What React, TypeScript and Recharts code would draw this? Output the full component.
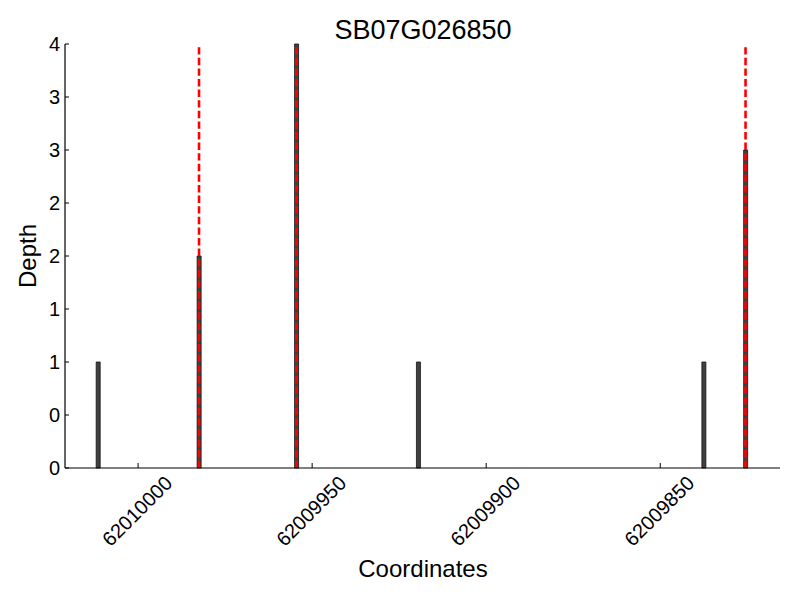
/**
 * Depth plot for SB07G026850 — per-coordinate read depth with marked positions.
 */
import { ComposedChart, Bar, XAxis, YAxis, ReferenceLine, Customized } from 'recharts'

const FONT = '"Liberation Sans", Arial, sans-serif'

const coordinates = [62010011.5, 62009982.5, 62009954.5, 62009919.5, 62009837.5, 62009825.5]
const depths = [1, 2, 4, 1, 1, 3]
const markedCoordinates = [62009982.5, 62009954.5, 62009825.5]
const xTicks = [62010000, 62009950, 62009900, 62009850]
const yTicks = [0, 0.5, 1, 1.5, 2, 2.5, 3, 3.5, 4]
const xDomain = [62009815.6, 62010021]

const data = coordinates.map((coord, i) => ({ coord, depth: depths[i] }))

function XTick({ x, y, payload }: any) {
  return (
    <g>
      <line x1={x} y1={y} x2={x} y2={y - 5} stroke="#000" strokeWidth={1} />
      <text
        x={x - 1}
        y={y + 43}
        transform={`rotate(-45, ${x - 1}, ${y + 43})`}
        textAnchor="middle"
        dominantBaseline="central"
        fontFamily={FONT}
        fontSize={20}
        fill="#000"
      >
        {payload.value}
      </text>
    </g>
  )
}

function YTick({ x, y, payload }: any) {
  return (
    <g>
      <line x1={x + 5} y1={y} x2={x + 9} y2={y} stroke="#000" strokeWidth={1} />
      <text
        x={x}
        y={y}
        textAnchor="end"
        dominantBaseline="central"
        fontFamily={FONT}
        fontSize={20}
        fill="#000"
      >
        {Math.floor(payload.value)}
      </text>
    </g>
  )
}

export default function App() {
  return (
    <div style={{ position: 'absolute', left: 0, top: 0, width: 800, height: 600, background: '#fff' }}>
      <ComposedChart
        width={800}
        height={600}
        data={data}
        margin={{ top: 44, right: 20, bottom: 0, left: 0 }}
      >
        <XAxis
          dataKey="coord"
          type="number"
          domain={xDomain}
          reversed
          allowDataOverflow
          ticks={xTicks}
          interval={0}
          tickSize={0}
          tickMargin={0}
          tick={<XTick />}
          height={132}
          axisLine={{ stroke: '#000', strokeWidth: 1.2 }}
          tickLine={false}
        />
        <YAxis
          type="number"
          domain={[0, 4]}
          ticks={yTicks}
          interval={0}
          width={65}
          tickSize={0}
          tickMargin={5}
          tick={<YTick />}
          axisLine={{ stroke: '#000', strokeWidth: 1.2 }}
          tickLine={false}
        />
        <Bar
          dataKey="depth"
          barSize={4}
          fill="#404040"
          stroke="#111"
          strokeWidth={0.8}
          isAnimationActive={false}
        />
        {markedCoordinates.map((c) => (
          <ReferenceLine
            key={c}
            x={c}
            stroke="#ff0000"
            strokeWidth={2.6}
            strokeDasharray="7.4 3.2"
            ifOverflow="visible"
          />
        ))}
        <Customized
          component={() => (
            <g fontFamily={FONT} fill="#000">
              <text x={423} y={30} textAnchor="middle" dominantBaseline="central" fontSize={27}>
                SB07G026850
              </text>
              <text x={423} y={568} textAnchor="middle" dominantBaseline="central" fontSize={24}>
                Coordinates
              </text>
              <text
                x={27}
                y={256}
                transform="rotate(-90, 27, 256)"
                textAnchor="middle"
                dominantBaseline="central"
                fontSize={24}
              >
                Depth
              </text>
            </g>
          )}
        />
      </ComposedChart>
    </div>
  )
}
